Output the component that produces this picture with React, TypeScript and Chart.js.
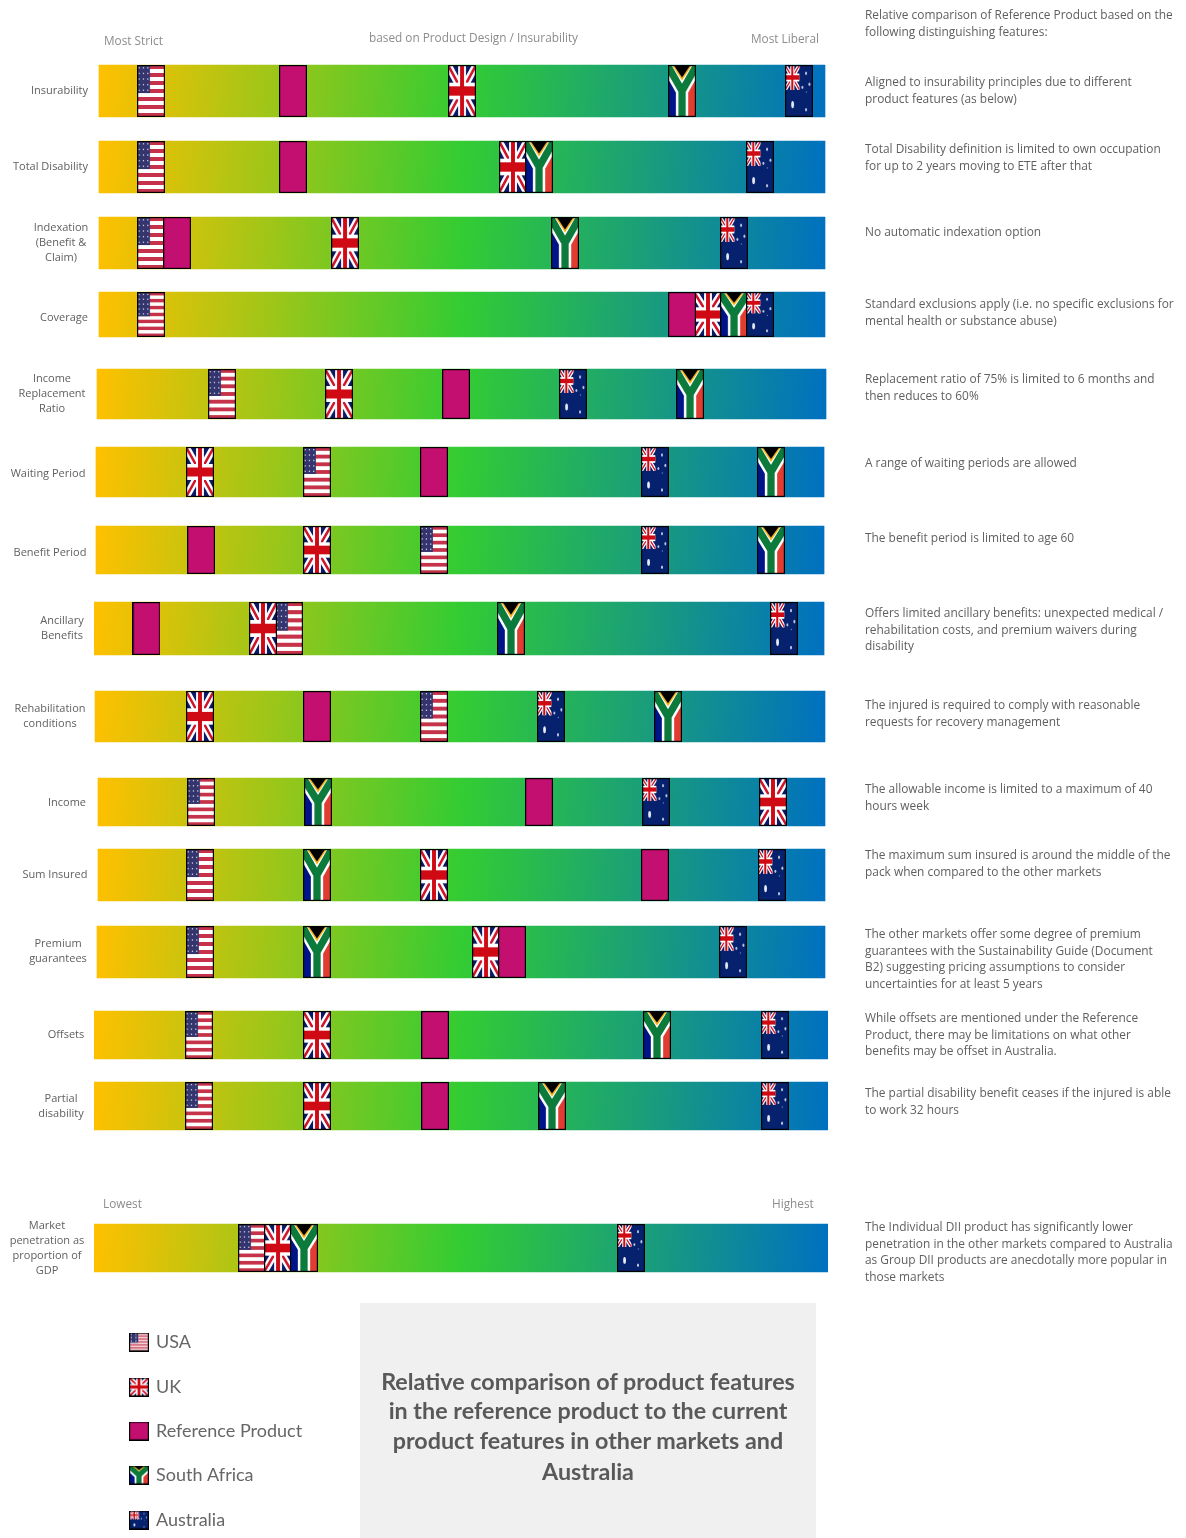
import React, { useEffect, useRef } from "react";
import { Chart, registerables } from "chart.js";

Chart.register(...registerables);

const rowLabels = [
  ["Insurability"], ["Total Disability"], ["Indexation", "(Benefit &", "Claim)"], ["Coverage"],
  ["Income", "Replacement", "Ratio"], ["Waiting Period"], ["Benefit Period"], ["Ancillary", "Benefits"],
  ["Rehabilitation", "conditions"], ["Income"], ["Sum Insured"], ["Premium", "guarantees"], ["Offsets"],
  ["Partial", "disability"], ["Market", "penetration as", "proportion of", "GDP"],
];

const usaScores = [7.77, 7.77, 7.77, 7.77, 17.44, 30.38, 46.32, 26.57, 46.32, 14.58, 14.44, 14.44, 14.31, 14.31, 21.53];
const ukScores = [50.14, 57.08, 34.2, 83.65, 33.38, 14.44, 30.38, 23.02, 14.44, 92.5, 46.32, 53.41, 30.38, 30.38, 25.07];
const refScores = [27.11, 27.11, 11.31, 80.11, 49.32, 46.32, 14.58, 7.15, 30.38, 60.63, 76.43, 56.95, 46.46, 46.46, null];
const saScores = [80.11, 60.63, 64.17, 87.2, 81.2, 92.23, 92.23, 56.81, 78.2, 30.52, 30.38, 30.38, 76.7, 62.4, 28.61];
const auScores = [96.05, 90.74, 87.2, 90.74, 65.26, 76.43, 76.43, 94.0, 62.26, 76.57, 92.37, 87.06, 92.78, 92.78, 73.16];

const bandStart = [0.68, 0.68, 0.68, 0.68, 0.41, 0.27, 0.27, 0, 0.14, 0.54, 0.54, 0.41, 0, 0, 0];
const bandEnd = [99.59, 99.59, 99.59, 99.59, 99.73, 99.46, 99.46, 99.46, 99.59, 99.59, 99.59, 99.59, 100, 100, 100];

const rowCenters = [91, 167, 243, 314.5, 394, 472, 550, 628.5, 716.5, 802, 875, 952, 1035, 1106, 1248];
const rowHeights = [52, 52, 52, 45, 50, 50, 48, 53, 51, 48, 52, 52, 48, 48, 48];
const labelCenterX = [59.5, 50.5, 61, 64, 52, 48, 50, 62, 50, 67, 55, 58, 66, 61, 47];
const labelCenterY = [91, 167, 243, 318, 394, 474, 553, 628, 716, 803, 875, 951, 1035, 1106, 1248];

const legendNames = ["USA", "UK", "Reference Product", "South Africa", "Australia"];
const legendY = [1342, 1387, 1431, 1475, 1520];

const noteLines = [
  ["Relative comparison of Reference Product based on the", "following distinguishing features:"],
  ["Aligned to insurability principles due to different", "product features (as below)"],
  ["Total Disability definition is limited to own occupation", "for up to 2 years moving to ETE after that"],
  ["No automatic indexation option"],
  ["Standard exclusions apply (i.e. no specific exclusions for", "mental health or substance abuse)"],
  ["Replacement ratio of 75% is limited to 6 months and", "then reduces to 60%"],
  ["A range of waiting periods are allowed"],
  ["The benefit period is limited to age 60"],
  ["Offers limited ancillary benefits: unexpected medical /", "rehabilitation costs, and premium waivers during", "disability"],
  ["The injured is required to comply with reasonable", "requests for recovery management"],
  ["The allowable income is limited to a maximum of 40", "hours week"],
  ["The maximum sum insured is around the middle of the", "pack when compared to the other markets"],
  ["The other markets offer some degree of premium", "guarantees with the Sustainability Guide (Document", "B2) suggesting pricing assumptions to consider", "uncertainties for at least 5 years"],
  ["While offsets are mentioned under the Reference", "Product, there may be limitations on what other", "benefits may be offset in Australia."],
  ["The partial disability benefit ceases if the injured is able", "to work 32 hours"],
  ["The Individual DII product has significantly lower", "penetration in the other markets compared to Australia", "as Group DII products are anecdotally more popular in", "those markets"],
];
const noteFirstY = [15, 82, 149, 232, 304, 379, 463, 538, 613, 705, 789, 855, 934, 1018, 1093, 1227];

const scaleCaptions = [
  { text: "Most Strict", x: 104, y: 41 },
  { text: "based on Product Design / Insurability", x: 369, y: 38 },
  { text: "Most Liberal", x: 751, y: 39 },
  { text: "Lowest", x: 103, y: 1204 },
  { text: "Highest", x: 772, y: 1204 },
];

const titleLines = [
  "Relative comparison of product features",
  "in the reference product to the current",
  "product features in other markets and",
  "Australia",
];
const titleY = [1381, 1410, 1440, 1471];

const FONT = '"Open Sans", sans-serif';
const DISPLAY_FONT = 'Lato, "Open Sans", sans-serif';
const TEXT = "#5f5f5f";

function drawUnion(c: CanvasRenderingContext2D, w: number, h: number) {
  c.save();
  c.beginPath();
  c.rect(0, 0, w, h);
  c.clip();
  c.fillStyle = "#0a1a66";
  c.fillRect(0, 0, w, h);
  const diag = (color: string, lw: number) => {
    c.strokeStyle = color;
    c.lineWidth = lw;
    c.beginPath();
    c.moveTo(0, 0);
    c.lineTo(w, h);
    c.moveTo(w, 0);
    c.lineTo(0, h);
    c.stroke();
  };
  diag("#ffffff", Math.min(w, h) * 0.26);
  diag("#cf142b", Math.min(w, h) * 0.09);
  c.fillStyle = "#ffffff";
  c.fillRect(w * 0.36, 0, w * 0.28, h);
  c.fillRect(0, h * 0.34, w, h * 0.32);
  c.fillStyle = "#cf0a14";
  c.fillRect(w * 0.43, 0, w * 0.14, h);
  c.fillRect(0, h * 0.41, w, h * 0.18);
  c.restore();
}

function drawUSA(c: CanvasRenderingContext2D, w: number, h: number) {
  for (let i = 0; i < 13; i++) {
    c.fillStyle = i % 2 === 0 ? "#c5324a" : "#ffffff";
    c.fillRect(0, (i * h) / 13, w, h / 13 + 0.5);
  }
  c.fillStyle = "#34356e";
  c.fillRect(0, 0, w * 0.46, h * 0.54);
  c.fillStyle = "#c9cbe0";
  const cols = w > 22 ? 3 : 2;
  const rows = h > 30 ? 5 : 3;
  for (let r = 0; r < rows; r++) {
    for (let k = 0; k < cols; k++) {
      c.fillRect(((k + 0.5) * w * 0.46) / cols - 0.6, ((r + 0.5) * h * 0.54) / rows - 0.7, 1.2, 1.4);
    }
  }
}

function drawSA(c: CanvasRenderingContext2D, w: number, h: number) {
  c.fillStyle = "#001489";
  c.fillRect(0, 0, w / 2, h);
  c.fillStyle = "#e03c31";
  c.fillRect(w / 2, 0, w / 2, h);
  c.save();
  c.beginPath();
  c.rect(0, 0, w, h);
  c.clip();
  const meetY = h * 0.5;
  const yShape = (color: string, lw: number) => {
    c.strokeStyle = color;
    c.lineWidth = lw;
    c.lineJoin = "miter";
    c.beginPath();
    c.moveTo(-w * 0.05, -h * 0.02);
    c.lineTo(w / 2, meetY);
    c.lineTo(w * 1.05, -h * 0.02);
    c.moveTo(w / 2, meetY);
    c.lineTo(w / 2, h + 2);
    c.stroke();
  };
  yShape("#ffffff", w * 0.44);
  yShape("#0b7a3b", w * 0.26);
  c.fillStyle = "#f5b21a";
  c.beginPath();
  c.moveTo(w * 0.14, 0);
  c.lineTo(w * 0.86, 0);
  c.lineTo(w / 2, h * 0.3);
  c.closePath();
  c.fill();
  c.fillStyle = "#000000";
  c.beginPath();
  c.moveTo(w * 0.2, 0);
  c.lineTo(w * 0.8, 0);
  c.lineTo(w / 2, h * 0.24);
  c.closePath();
  c.fill();
  c.restore();
}

function drawAU(c: CanvasRenderingContext2D, w: number, h: number) {
  c.fillStyle = "#06226e";
  c.fillRect(0, 0, w, h);
  drawUnion(c, w * 0.52, h * 0.48);
  const stars = [
    [0.27, 0.76, 0.05, 0.07, "#e8ecf6"],
    [0.75, 0.16, 0.035, 0.035, "#b9c4de"],
    [0.62, 0.43, 0.035, 0.03, "#b9c4de"],
    [0.87, 0.37, 0.035, 0.035, "#b9c4de"],
    [0.76, 0.52, 0.02, 0.015, "#8d9bc4"],
    [0.75, 0.86, 0.035, 0.035, "#c4cde3"],
  ];
  stars.forEach(([x, y, rx, ry, col]) => {
    c.fillStyle = col as string;
    c.beginPath();
    c.ellipse(w * (x as number), h * (y as number), w * (rx as number), h * (ry as number), 0, 0, Math.PI * 2);
    c.fill();
  });
}

const flagCache = new Map<string, HTMLCanvasElement>();
function flag(name: string, w: number, h: number) {
  const key = `${name}|${w}|${h}`;
  const cached = flagCache.get(key);
  if (cached) return cached;
  const cv = document.createElement("canvas");
  cv.width = w;
  cv.height = h;
  const c = cv.getContext("2d") as CanvasRenderingContext2D;
  if (name === "USA") drawUSA(c, w, h);
  else if (name === "UK") drawUnion(c, w, h);
  else if (name === "South Africa") drawSA(c, w, h);
  else if (name === "Australia") drawAU(c, w, h);
  else {
    c.fillStyle = "#c30f6f";
    c.fillRect(0, 0, w, h);
  }
  c.strokeStyle = "#000000";
  c.lineWidth = 1.2;
  c.strokeRect(0.6, 0.6, w - 1.2, h - 1.2);
  flagCache.set(key, cv);
  return cv;
}

const flagSeries: [string, (number | null)[]][] = [
  ["USA", usaScores],
  ["UK", ukScores],
  ["Reference Product", refScores],
  ["South Africa", saScores],
  ["Australia", auScores],
];

const placeLabels = {
  id: "placeLabels",
  beforeDraw(chart: any) {
    const items = chart.scales.y.getLabelItems();
    items.forEach((it: any, i: number) => {
      it.options.textAlign = "center";
      it.options.translation = [labelCenterX[i], labelCenterY[i]];
    });
  },
};

const flagLegend = {
  id: "flagLegend",
  afterDraw(chart: any) {
    const c = chart.ctx as CanvasRenderingContext2D;
    c.save();
    c.font = `18px ${DISPLAY_FONT}`;
    c.fillStyle = "#666666";
    c.textBaseline = "middle";
    c.textAlign = "left";
    legendNames.forEach((name, i) => {
      c.drawImage(flag(name, 20, 19), 129, legendY[i] - 9.5);
      c.fillText(name, 156, legendY[i]);
    });
    c.restore();
  },
};

export default function App() {
  const ref = useRef<HTMLCanvasElement>(null);
  useEffect(() => {
    const flagSets = flagSeries.map(([name, scores], k) => ({
      type: "scatter" as const,
      label: name,
      order: 5 - k,
      showLine: false,
      clip: false,
      pointRadius: 10,
      pointBorderWidth: 0,
      pointStyle: (ctx: any) => flag(name, 28, rowHeights[ctx.dataIndex] ?? 48),
      data: scores.map((s, i) => ({ x: s, y: rowCenters[i] })),
    }));
    const bandSets = rowCenters.map((yc, i) => ({
      type: "bar" as const,
      label: rowLabels[i].join(" "),
      order: 20,
      indexAxis: "y" as const,
      grouped: false,
      barThickness: rowHeights[i],
      borderWidth: 0,
      data: [{ x: [bandStart[i], bandEnd[i]], y: yc }],
      backgroundColor: (ctx: any) => {
        const sc = ctx.chart.scales;
        const x0 = sc.x ? sc.x.getPixelForValue(bandStart[i]) : NaN;
        const x1 = sc.x ? sc.x.getPixelForValue(bandEnd[i]) : NaN;
        if (!Number.isFinite(x0) || !Number.isFinite(x1)) return "#33cc33";
        const g = ctx.chart.ctx.createLinearGradient(x0, yc - rowHeights[i] / 2, x1, yc + rowHeights[i] / 2);
        g.addColorStop(0, "#ffc000");
        g.addColorStop(0.5, "#33cc33");
        g.addColorStop(1, "#0070c0");
        return g;
      },
    }));
    const chart = new Chart(ref.current as HTMLCanvasElement, {
      type: "scatter",
      data: { datasets: [...flagSets, ...bandSets] as any },
      plugins: [placeLabels, flagLegend],
      options: {
        animation: false,
        responsive: false,
        events: [],
        layout: { autoPadding: false, padding: { left: 0, right: 358, top: 0, bottom: 0 } },
        plugins: { legend: { display: false }, tooltip: { enabled: false } },
        scales: {
          x: { type: "linear", min: 0, max: 100, display: false, offset: false },
          y: {
            type: "linear",
            reverse: true,
            min: 0,
            max: 1538,
            offset: false,
            grid: { display: false },
            border: { display: false },
            afterFit: (s: any) => {
              s.width = 94;
              s.paddingTop = 0;
              s.paddingBottom = 0;
            },
            afterBuildTicks: (s: any) => {
              s.ticks = rowCenters.map((v) => ({ value: v }));
            },
            ticks: {
              autoSkip: false,
              color: TEXT,
              font: { family: FONT, size: 11, lineHeight: 15 / 11 },
              callback: (_v: any, i: number) => rowLabels[i],
            },
          },
        },
      } as any,
    });
    return () => chart.destroy();
  }, []);

  const abs: React.CSSProperties = { position: "absolute", whiteSpace: "nowrap", fontFamily: FONT };
  return (
    <div style={{ position: "absolute", left: 0, top: 0, width: 1186, height: 1538, overflow: "hidden", background: "#fff" }}>
      <div style={{ position: "absolute", left: 360, top: 1303, width: 456, height: 235, background: "#f0f0f0" }} />
      <canvas ref={ref} width={1186} height={1538} style={{ position: "absolute", left: 0, top: 0 }} />
      {scaleCaptions.map((t) => (
        <div key={t.text} style={{ ...abs, left: t.x, top: t.y - 10, height: 18, lineHeight: "18px", fontSize: 11.8, color: "#8c8c8c" }}>
          {t.text}
        </div>
      ))}
      {noteLines.map((lines, i) => (
        <div key={i} style={{ ...abs, left: 865, top: noteFirstY[i] - 9, lineHeight: "16.7px", fontSize: 11.9, color: TEXT }}>
          {lines.map((l) => (
            <div key={l}>{l}</div>
          ))}
        </div>
      ))}
      {titleLines.map((l, i) => (
        <div key={l} style={{ ...abs, fontFamily: DISPLAY_FONT, left: 360, width: 456, textAlign: "center", top: titleY[i] - 15, lineHeight: "30px", fontSize: 23.3, fontWeight: 700, color: "#595959" }}>
          {l}
        </div>
      ))}
    </div>
  );
}
